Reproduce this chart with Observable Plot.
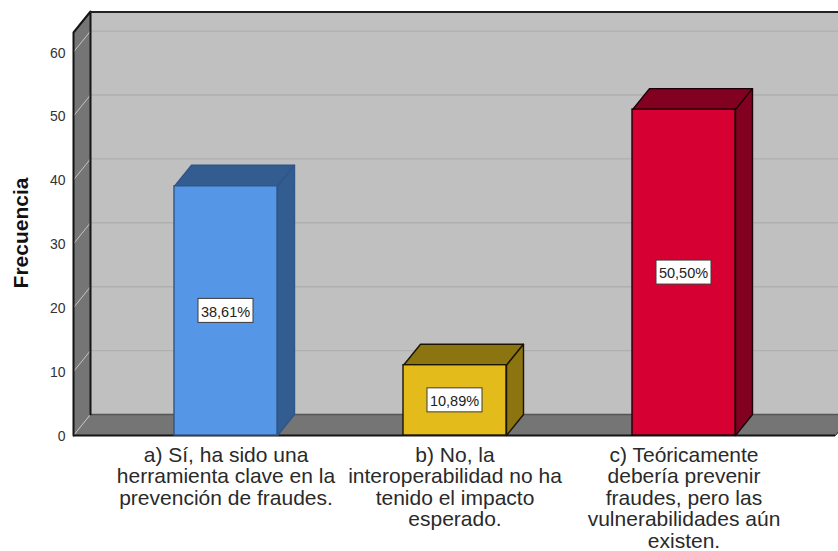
<!DOCTYPE html>
<html>
<head>
<meta charset="utf-8">
<script src="https://cdn.jsdelivr.net/npm/d3@7"></script>
<script src="https://cdn.jsdelivr.net/npm/@observablehq/plot@0.6"></script>
<style>
html,body{margin:0;padding:0;background:#fff}
svg{display:block}
</style>
</head>
<body>
<div id="chart"></div>
<script>
const categories = [
  "a) Sí, ha sido una\nherramienta clave en la\nprevención de fraudes.",
  "b) No, la\ninteroperabilidad no ha\ntenido el impacto\nesperado.",
  "c) Teóricamente\ndebería prevenir\nfraudes, pero las\nvulnerabilidades aún\nexisten."
];
const counts = [39, 11, 51];
const percentLabels = ["38,61%", "10,89%", "50,50%"];
const yTicks = [0, 10, 20, 30, 40, 50, 60];
const frontColors = ["#5596E6", "#E3BC1B", "#D60032"];
const sideColors = ["#335C91", "#8C7410", "#820020"];
const edgeColors = ["#2F5688", "#1a1400", "#1a0006"];

// Scale geometry: category slots in x units, counts in y units.
const W = 838, H = 551;
const mL = 73, mB = 116, mT = 11;
const pxX = 229;                         // pixels per category
const pxY = 6.39;                        // pixels per count
const xMax = (W - mL) / pxX;
const yMax = (H - mB - mT) / pxY;
const xRight = (835 - mL) / pxX;
const depthX = 17 / pxX, depthY = 21 / pxY;
const halfBar = 51.5 / pxX;
const first = (225.5 - mL) / pxX;
const wallTop = (435 - 32) / pxY;
const cx = i => first + i;

const face = (pts, fill, stroke, strokeWidth = 1) =>
  Plot.line([...pts, pts[0]], {x: d => d[0], y: d => d[1], fill, stroke, strokeWidth, strokeLinejoin: "round"});

const bars = counts.flatMap((v, i) => {
  const a = cx(i) - halfBar, b = cx(i) + halfBar;
  return [
    face([[a, v], [a + depthX, v + depthY], [b + depthX, v + depthY], [b, v]], sideColors[i], edgeColors[i], 1.4),
    face([[b, 0], [b + depthX, depthY], [b + depthX, v + depthY], [b, v]], sideColors[i], edgeColors[i], 1.4),
    Plot.rect([v], {x1: a, x2: b, y1: 0, y2: v, fill: frontColors[i], stroke: edgeColors[i], strokeWidth: 1.4}),
    Plot.rect([v], {
      x1: cx(i) - 27.5 / pxX, x2: cx(i) + 27.5 / pxX,
      y1: v / 2 - 12 / pxY, y2: v / 2 + 12 / pxY,
      fill: "#fff", stroke: "#3c3c3c", strokeWidth: 1
    }),
    Plot.text([percentLabels[i]], {
      x: cx(i), y: v / 2, text: d => d, fill: "#222", fontSize: 14.5, dx: -0.5, dy: 1
    })
  ];
});

const chart = Plot.plot({
  width: W, height: H,
  marginLeft: mL, marginRight: 0, marginTop: mT, marginBottom: mB,
  style: {fontFamily: "'Liberation Sans', Arial, sans-serif", background: "#fff"},
  x: {domain: [0, xMax], axis: null},
  y: {domain: [0, yMax], ticks: yTicks, axis: null},
  marks: [
    // back wall
    Plot.rect([0], {x1: depthX, x2: xMax + 1, y1: depthY, y2: yMax, fill: "#C0C0C0"}),
    // back gridlines
    Plot.ruleY(yTicks.slice(1), {y: d => d + depthY, x1: depthX, x2: xMax, stroke: "#AFAFAF", strokeWidth: 1.4}),
    // left wall
    face([[0, 0], [depthX, depthY], [depthX, yMax], [0, wallTop]], "#757575", "none"),
    // floor
    face([[0, 0], [depthX, depthY], [xRight + depthX, depthY], [xRight, 0]], "#757575", "none"),
    Plot.ruleY([depthY], {x1: depthX, x2: xMax, stroke: "#555", strokeWidth: 1.4}),
    // side-wall gridlines
    ...yTicks.map(t => Plot.line([[0, t], [depthX, t + depthY]], {x: d => d[0], y: d => d[1], stroke: "#C4C4C4", strokeWidth: 1})),
    // frame
    Plot.line([[0, 0], [0, wallTop], [depthX, yMax], [depthX, depthY]], {x: d => d[0], y: d => d[1], stroke: "#151515", strokeWidth: 2}),
    Plot.ruleY([yMax], {x1: depthX, x2: xMax, stroke: "#222", strokeWidth: 2, dy: 0.5}),
    Plot.ruleY([0], {x1: 0, x2: xRight, stroke: "#151515", strokeWidth: 2}),
    Plot.line([[xRight, 0], [xRight + depthX, depthY]], {x: d => d[0], y: d => d[1], stroke: "#222", strokeWidth: 1}),
    // axis
    Plot.axisY(yTicks, {anchor: "left", tickSize: 0, tickPadding: 8, label: null, fontSize: 14, fill: "#333", dy: 1}),
    Plot.text(["Frecuencia"], {
      text: d => d, y: (435 - 232.5) / pxY, frameAnchor: "left", textAnchor: "middle", dx: -52, rotate: -90,
      fontSize: 21, letterSpacing: 0.4, fontWeight: "bold", fill: "#111"
    }),
    ...bars,
    // category labels
    Plot.text(categories, {
      x: (d, i) => cx(i), y: 0, text: d => d, lineAnchor: "top", dy: 11,
      lineHeight: 1.024, fontSize: 21, fill: "#2a2a2a", textAnchor: "middle"
    })
  ]
});
document.getElementById("chart").append(chart);
</script>
</body>
</html>
